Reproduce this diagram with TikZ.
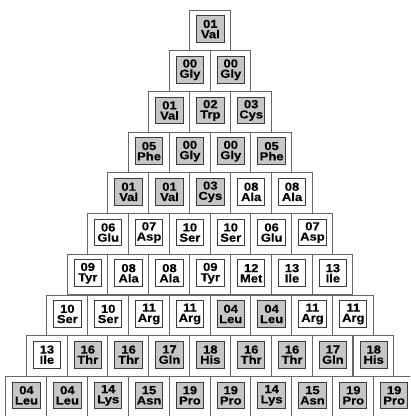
\documentclass[tikz,border=0pt]{standalone}
\usepackage{fontspec}
\setmainfont{Liberation Sans}
\newfontfamily\cellfont[FakeStretch=1.12,FakeBold=0.3]{Liberation Sans Bold}
\definecolor{cellgray}{HTML}{C6C6C6}
\definecolor{outerline}{HTML}{666666}
\definecolor{innerline}{HTML}{3C3C3C}
\newcommand\cellbox[5]{%
  \pgfmathsetmacro\cxx{210 + (#2 - (#1-1)/2)*40.85}%
  \pgfmathsetmacro\cyy{10 + (#1-1)*40.7 + 20.4}%
  \node[outerbox] (o#1-#2) at (\cxx,\cyy) {};
  \node[innerbox,fill=#5] (n#1-#2) at ([xshift=0.25pt,yshift=1pt]o#1-#2.center) {#3\\#4};
}
\begin{document}
\begin{tikzpicture}[x=0.75pt,y=-0.75pt,
  outerbox/.style={draw=outerline,line width=0.7pt,fill=white,minimum width=30.6pt,minimum height=30.5pt,inner sep=0pt,outer sep=0pt},
  innerbox/.style={draw=innerline,line width=0.75pt,minimum width=20.5pt,minimum height=20pt,inner sep=0pt,outer sep=0pt,align=center,font=\cellfont\fontsize{8.7pt}{7.7pt}\selectfont}]
\useasboundingbox (0,0) rectangle (410,416);
\begin{scope}
\clip (0,0) rectangle (410,416);
\cellbox{1}{0}{01}{Val}{cellgray}
\cellbox{2}{0}{00}{Gly}{cellgray}
\cellbox{2}{1}{00}{Gly}{cellgray}
\cellbox{3}{0}{01}{Val}{cellgray}
\cellbox{3}{1}{02}{Trp}{cellgray}
\cellbox{3}{2}{03}{Cys}{cellgray}
\cellbox{4}{0}{05}{Phe}{cellgray}
\cellbox{4}{1}{00}{Gly}{cellgray}
\cellbox{4}{2}{00}{Gly}{cellgray}
\cellbox{4}{3}{05}{Phe}{cellgray}
\cellbox{5}{0}{01}{Val}{cellgray}
\cellbox{5}{1}{01}{Val}{cellgray}
\cellbox{5}{2}{03}{Cys}{cellgray}
\cellbox{5}{3}{08}{Ala}{white}
\cellbox{5}{4}{08}{Ala}{white}
\cellbox{6}{0}{06}{Glu}{white}
\cellbox{6}{1}{07}{Asp}{white}
\cellbox{6}{2}{10}{Ser}{white}
\cellbox{6}{3}{10}{Ser}{white}
\cellbox{6}{4}{06}{Glu}{white}
\cellbox{6}{5}{07}{Asp}{white}
\cellbox{7}{0}{09}{Tyr}{white}
\cellbox{7}{1}{08}{Ala}{white}
\cellbox{7}{2}{08}{Ala}{white}
\cellbox{7}{3}{09}{Tyr}{white}
\cellbox{7}{4}{12}{Met}{white}
\cellbox{7}{5}{13}{Ile}{white}
\cellbox{7}{6}{13}{Ile}{white}
\cellbox{8}{0}{10}{Ser}{white}
\cellbox{8}{1}{10}{Ser}{white}
\cellbox{8}{2}{11}{Arg}{white}
\cellbox{8}{3}{11}{Arg}{white}
\cellbox{8}{4}{04}{Leu}{cellgray}
\cellbox{8}{5}{04}{Leu}{cellgray}
\cellbox{8}{6}{11}{Arg}{white}
\cellbox{8}{7}{11}{Arg}{white}
\cellbox{9}{0}{13}{Ile}{white}
\cellbox{9}{1}{16}{Thr}{cellgray}
\cellbox{9}{2}{16}{Thr}{cellgray}
\cellbox{9}{3}{17}{Gln}{cellgray}
\cellbox{9}{4}{18}{His}{cellgray}
\cellbox{9}{5}{16}{Thr}{cellgray}
\cellbox{9}{6}{16}{Thr}{cellgray}
\cellbox{9}{7}{17}{Gln}{cellgray}
\cellbox{9}{8}{18}{His}{cellgray}
\cellbox{10}{0}{04}{Leu}{cellgray}
\cellbox{10}{1}{04}{Leu}{cellgray}
\cellbox{10}{2}{14}{Lys}{cellgray}
\cellbox{10}{3}{15}{Asn}{cellgray}
\cellbox{10}{4}{19}{Pro}{cellgray}
\cellbox{10}{5}{19}{Pro}{cellgray}
\cellbox{10}{6}{14}{Lys}{cellgray}
\cellbox{10}{7}{15}{Asn}{cellgray}
\cellbox{10}{8}{19}{Pro}{cellgray}
\cellbox{10}{9}{19}{Pro}{cellgray}
\end{scope}
\end{tikzpicture}
\end{document}
